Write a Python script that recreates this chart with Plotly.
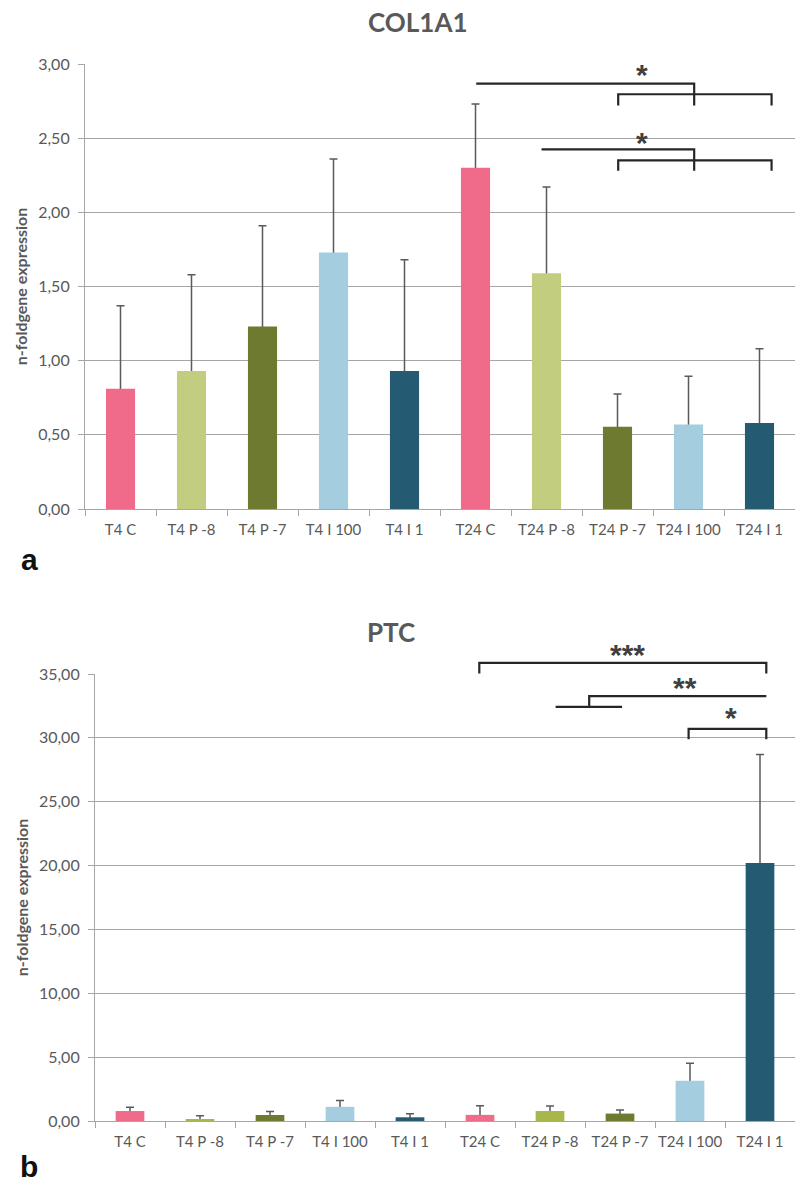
import plotly.graph_objects as go

categories = ["T4 C", "T4 P -8", "T4 P -7", "T4 I 100", "T4 I 1",
              "T24 C", "T24 P -8", "T24 P -7", "T24 I 100", "T24 I 1"]

col1a1_mean = [0.81, 0.93, 1.23, 1.73, 0.93, 2.30, 1.59, 0.555, 0.57, 0.58]
col1a1_upper = [1.37, 1.58, 1.91, 2.36, 1.68, 2.73, 2.17, 0.775, 0.895, 1.08]

ptc_mean = [0.78, 0.15, 0.47, 1.11, 0.29, 0.48, 0.78, 0.58, 3.15, 20.2]
ptc_upper = [1.07, 0.42, 0.75, 1.61, 0.57, 1.20, 1.17, 0.86, 4.52, 28.7]

top_colors = ["#F06B89", "#C3CD7F", "#6E7A30", "#A4CDDF", "#245A72",
              "#F06B89", "#C3CD7F", "#6E7A30", "#A4CDDF", "#245A72"]
bot_colors = ["#F06B89", "#A8B64B", "#6E7A30", "#A4CDDF", "#245A72",
              "#F06B89", "#A8B64B", "#6E7A30", "#A4CDDF", "#245A72"]

col1a1_ticks = [0, 0.5, 1.0, 1.5, 2.0, 2.5, 3.0]
ptc_ticks = [0, 5, 10, 15, 20, 25, 30, 35]
TOP_MAX = 3.0
BOT_MAX = 35.0

# significance brackets: (category-index x, value y) polylines
col1a1_brackets = [
    [(5.01, 2.868), (8.08, 2.868), (8.08, 2.72)],
    [(7.01, 2.72), (7.01, 2.796), (9.17, 2.796), (9.17, 2.72)],
    [(5.93, 2.425), (8.08, 2.425), (8.08, 2.28)],
    [(7.01, 2.28), (7.01, 2.35), (9.17, 2.35), (9.17, 2.28)],
]
col1a1_stars = [(7.34, 2.93, "*"), (7.34, 2.47, "*")]

ptc_brackets = [
    [(4.99, 35.03), (4.99, 35.87), (9.09, 35.87), (9.09, 35.03)],
    [(6.56, 32.42), (6.56, 33.26), (9.09, 33.26)],
    [(6.08, 32.42), (7.03, 32.42)],
    [(7.98, 29.89), (7.98, 30.7), (9.09, 30.7), (9.09, 29.89)],
]
ptc_stars = [(7.10, 36.5, "***"), (7.93, 33.95, "**"), (8.59, 31.6, "*")]

TXT = "#595959"
GRID = "#A6A6A6"
FONT = "Lato"

fig = go.Figure()

def add_bars(mean, upper, colors, xa, ya):
    # error bar trace first (transparent bars), so the coloured bars cover its base
    fig.add_trace(go.Bar(
        x=categories, y=mean, marker=dict(color="rgba(0,0,0,0)", line=dict(width=0)),
        error_y=dict(type="data", symmetric=False,
                     array=[u - m for u, m in zip(upper, mean)],
                     arrayminus=[m * 0.5 for m in mean],
                     color="#5A5A5A", thickness=1.5, width=4),
        xaxis=xa, yaxis=ya, showlegend=False, hoverinfo="skip"))
    fig.add_trace(go.Bar(
        x=categories, y=mean, marker=dict(color=colors, line=dict(width=0)),
        xaxis=xa, yaxis=ya, showlegend=False))

add_bars(col1a1_mean, col1a1_upper, top_colors, "x", "y")
add_bars(ptc_mean, ptc_upper, bot_colors, "x2", "y2")

def add_brackets(brackets, stars, xref, ydom, ymax):
    for poly in brackets:
        path = "M " + " L ".join(f"{x},{y / ymax}" for x, y in poly)
        fig.add_shape(type="path", path=path, xref=xref, yref=ydom,
                      line=dict(color="#262626", width=2.2))
    for x, y, s in stars:
        fig.add_annotation(x=x, y=y / ymax, xref=xref, yref=ydom, text="<b>" + s + "</b>",
                           showarrow=False, yanchor="middle",
                           font=dict(family="Liberation Sans", size=30, color="#404040"))

add_brackets(col1a1_brackets, col1a1_stars, "x", "y domain", TOP_MAX)
add_brackets(ptc_brackets, ptc_stars, "x2", "y2 domain", BOT_MAX)

W, H = 795, 1187
xcommon = dict(type="category", showline=True, linecolor=GRID, linewidth=1.2,
               ticks="outside", tickson="boundaries", ticklen=6, tickcolor=GRID,
               tickfont=dict(family=FONT, size=15, color=TXT), tickangle=0,
               ticklabelstandoff=7, showgrid=False, fixedrange=True, automargin=False)
ycommon = dict(showline=True, linecolor=GRID, linewidth=1.2, ticks="outside",
               ticklen=6, tickcolor=GRID, showgrid=True, gridcolor=GRID,
               gridwidth=1.2, zeroline=False, tickformat=".2f", automargin=False,
               tickfont=dict(family=FONT, size=16, color=TXT),
               ticklabelstandoff=5, fixedrange=True,
               title=dict(text="n-foldgene expression", standoff=6,
                          font=dict(family=FONT, size=16, color=TXT, weight="bold")))

fig.update_layout(
    template="none",
    width=W, height=H, margin=dict(l=0, r=0, t=0, b=0, autoexpand=False),
    paper_bgcolor="white", plot_bgcolor="white", separators=",.",
    bargap=0.59, barmode="overlay", showlegend=False,
    xaxis=dict(domain=[85 / W, 1], anchor="y", **xcommon),
    xaxis2=dict(domain=[95 / W, 1], anchor="y2", **xcommon),
    yaxis=dict(domain=[1 - 509 / H, 1 - 64 / H], anchor="x",
               range=[0, TOP_MAX], tickvals=col1a1_ticks, **ycommon),
    yaxis2=dict(domain=[1 - 1121 / H, 1 - 674 / H], anchor="x2",
                range=[0, BOT_MAX], tickvals=ptc_ticks, **ycommon),
    annotations=list(fig.layout.annotations) + [
        dict(text="<b>COL1A1</b>", x=418 / W, y=1 - 22 / H, xref="paper", yref="paper",
             showarrow=False, yanchor="middle",
             font=dict(family=FONT, size=26, color=TXT)),
        dict(text="<b>PTC</b>", x=391 / W, y=1 - 632 / H, xref="paper", yref="paper",
             showarrow=False, yanchor="middle",
             font=dict(family=FONT, size=26, color=TXT)),
        dict(text="<b>a</b>", x=29 / W, y=1 - 559 / H, xref="paper", yref="paper",
             showarrow=False, xanchor="center", yanchor="middle",
             font=dict(family="Liberation Sans", size=30, color="#111111")),
        dict(text="<b>b</b>", x=29 / W, y=1 - 1166 / H, xref="paper", yref="paper",
             showarrow=False, xanchor="center", yanchor="middle",
             font=dict(family="Liberation Sans", size=30, color="#111111")),
    ],
)

fig.write_html("out.html", config={"displayModeBar": False},
               post_script="document.body.style.margin='0';document.body.style.overflow='hidden';")
